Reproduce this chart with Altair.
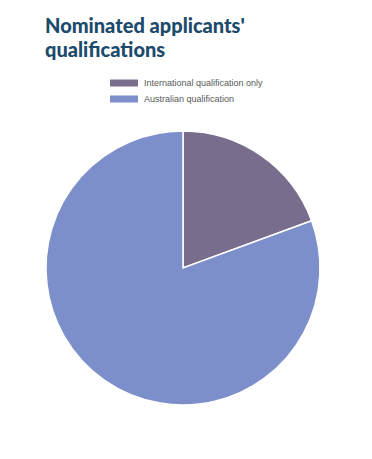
import altair as alt
import pandas as pd

categories = ["International qualification only", "Australian qualification"]
values = [19.4, 80.6]
colors = ["#796d8d", "#7c8fcb"]

df = pd.DataFrame({"category": categories, "value": values, "order": [0, 1]})

TOP = 70
pie = alt.Chart(df).mark_arc(outerRadius=137, stroke="white", strokeWidth=1.5).encode(
    theta=alt.Theta("value:Q", stack=True),
    order=alt.Order("order:Q"),
    color=alt.Color(
        "category:N",
        scale=alt.Scale(domain=categories, range=colors),
        legend=alt.Legend(
            title=None,
            orient="none",
            legendX=117,
            legendY=6,
            direction="vertical",
            symbolType="M-2,-0.5H2V0.5H-2Z",
            symbolSize=196,
            symbolStrokeWidth=0,
            labelOffset=13,
            labelFont="Liberation Sans",
            labelFontSize=9,
            labelColor="#595959",
            rowPadding=4,
        ),
    ),
    x=alt.value(183),
    y=alt.value(268 - TOP),
)

chart = pie.properties(
    width=372,
    height=459 - TOP,
    padding={"left": 0, "right": 0, "top": TOP, "bottom": 0},
    autosize=alt.AutoSizeParams(type="none"),
    title=alt.TitleParams(
        text=["Nominated applicants'", "qualifications"],
        anchor="start",
        dx=45,
        offset=9,
        font="Lato",
        fontWeight=900,
        fontSize=20,
        lineHeight=24,
        color="#1b4a6b",
    ),
).configure_view(stroke=None)

chart.save("out.html", embed_options={"renderer": "svg", "actions": False})
